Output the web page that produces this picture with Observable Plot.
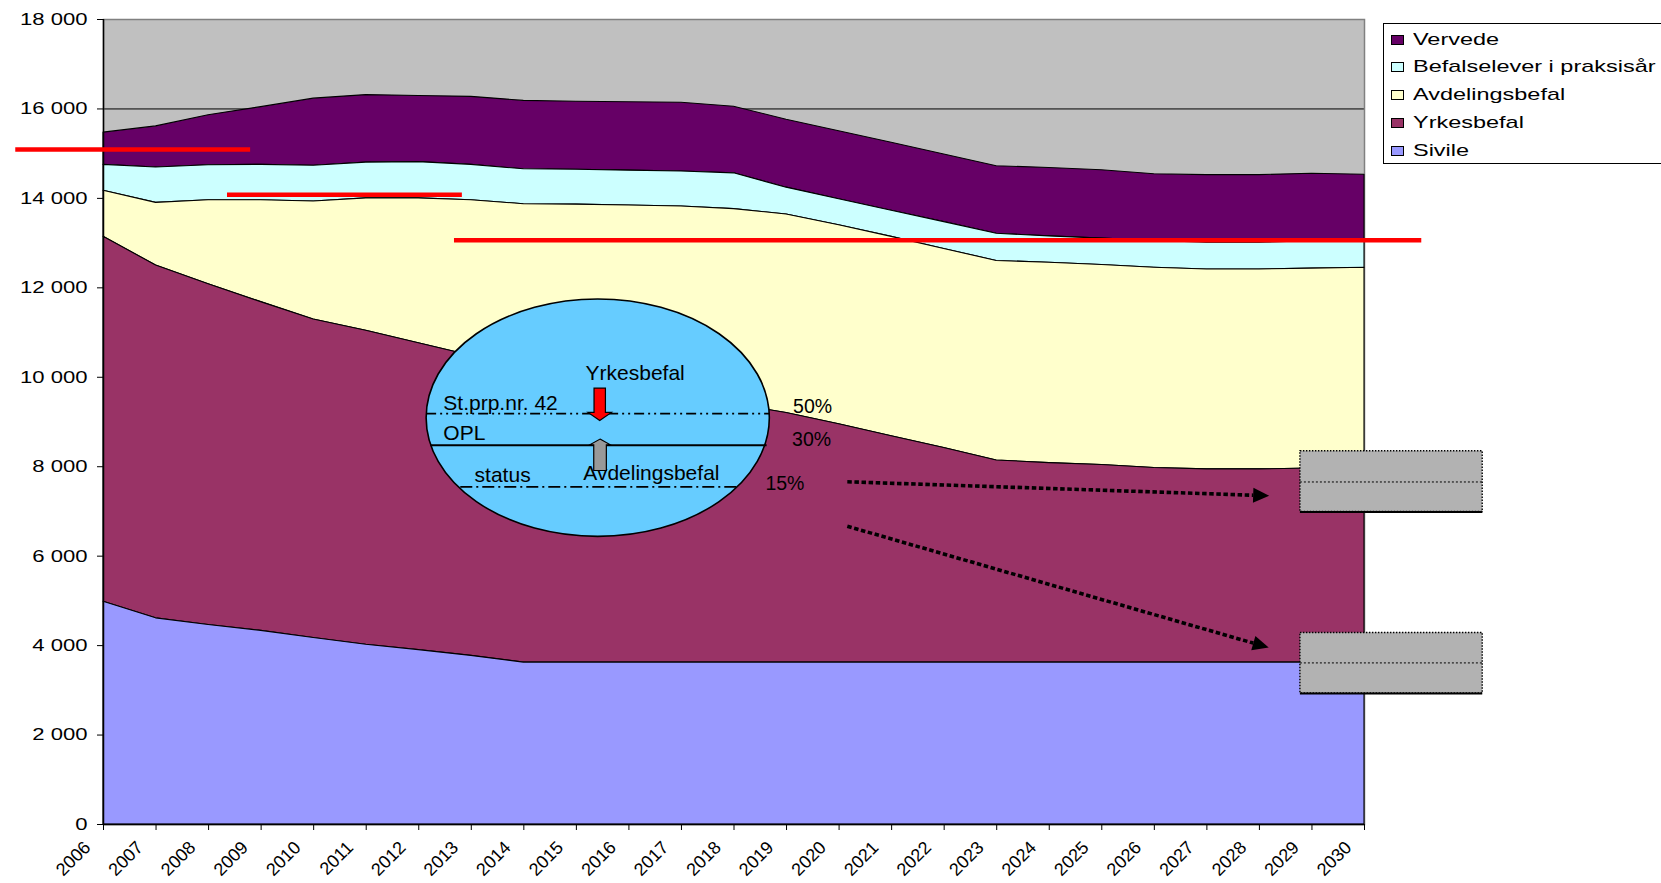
<!DOCTYPE html>
<html>
<head>
<meta charset="utf-8">
<script src="https://cdn.jsdelivr.net/npm/d3@7"></script>
<script src="https://cdn.jsdelivr.net/npm/@observablehq/plot@0.6"></script>
<style>
  html, body { margin: 0; padding: 0; background: #fff; overflow: hidden; }
  #chart { position: relative; width: 1661px; height: 883px; overflow: hidden; }
  #legend { position: absolute; left: 1383px; top: 23px; width: 300px; height: 139px;
    border: 1px solid #000; border-right: none; background: #fff;
    font-family: "Liberation Sans", Arial, sans-serif; font-size: 17px; color: #000; }
  .row { position: absolute; left: 0; height: 20px; display: flex; align-items: center; }
  .sw { width: 11px; height: 8px; border: 1px solid #000; margin-left: 7px; }
  .lab { margin-left: 9px; transform: scaleX(1.38); transform-origin: left center; white-space: nowrap; }
</style>
</head>
<body>
<div id="chart"></div>
<script>
// ---------------- data ----------------
const years = [2006, 2007, 2008, 2009, 2010, 2011, 2012, 2013, 2014, 2015, 2016, 2017, 2018,
               2019, 2020, 2021, 2022, 2023, 2024, 2025, 2026, 2027, 2028, 2029, 2030];
const sivile         = [4980, 4610, 4460, 4330, 4170, 4020, 3900, 3770, 3620, 3620, 3620, 3620, 3620,
                        3620, 3620, 3620, 3620, 3620, 3620, 3620, 3620, 3620, 3620, 3620, 3620];
const yrkesbefal     = [8160, 7890, 7620, 7350, 7120, 7020, 6860, 6710, 6600, 6380, 6180, 5980, 5780,
                        5580, 5330, 5060, 4800, 4520, 4460, 4420, 4350, 4320, 4320, 4340, 4360];
const avdelingsbefal = [1030, 1400, 1880, 2280, 2640, 2960, 3240, 3480, 3650, 3860, 4040, 4220, 4360,
                        4440, 4450, 4460, 4450, 4460, 4480, 4470, 4480, 4470, 4470, 4470, 4470];
const befalselever   = [580, 790, 780, 790, 800, 800, 810, 790, 780, 780, 780, 780, 800,
                        600, 580, 585, 600, 610, 590, 590, 600, 600, 600, 610, 620];
const vervede        = [720, 920, 1120, 1290, 1500, 1510, 1480, 1520, 1530, 1520, 1530, 1540, 1490,
                        1520, 1520, 1520, 1510, 1510, 1530, 1530, 1490, 1510, 1510, 1510, 1460];

const seriesNames  = ["Vervede", "Befalselever i praksisår", "Avdelingsbefal", "Yrkesbefal", "Sivile"];
const seriesColors = ["#660066", "#CCFFFF", "#FFFFCC", "#993366", "#9999FF"];
const stackOrder   = ["Sivile", "Yrkesbefal", "Avdelingsbefal", "Befalselever i praksisår", "Vervede"];
const yTicks = [0, 2000, 4000, 6000, 8000, 10000, 12000, 14000, 16000, 18000];

// red target lines (value, year span)
const targets = [
  {value: 15093, from: 2004.33, to: 2008.80},
  {value: 14084, from: 2008.36, to: 2012.83},
  {value: 13063, from: 2012.68, to: 2031.09}
];
// grey range boxes at the end (low / mid / high)
const ranges = [
  {lo: 6989, mid: 7659, hi: 8346},
  {lo: 2929, mid: 3613, hi: 4283}
];
const rangeYears = [2028.78, 2032.25];

// bubble annotation
const bubble = {year: 2015.416, value: 9085, halfYears: 3.266, halfValue: 2654};
const bubbleLines = [
  {value: 9188, from: 2012.15, to: 2018.68},   // St.prp.nr. 42
  {value: 8480, from: 2012.23, to: 2018.63},   // OPL
  {value: 7548, from: 2012.80, to: 2018.09}    // status
];
const bubbleLabels = [
  {label: "Yrkesbefal",     year: 2015.174, value: 9949},
  {label: "St.prp.nr. 42",  year: 2012.468, value: 9278},
  {label: "OPL",            year: 2012.468, value: 8607},
  {label: "status",         year: 2013.063, value: 7659},
  {label: "Avdelingsbefal", year: 2015.131, value: 7713}
];
const shareLabels = [
  {label: "50%", year: 2019.125, value: 9202},
  {label: "30%", year: 2019.106, value: 8464},
  {label: "15%", year: 2018.598, value: 7490}
];
const blockArrows = [
  {year: 2015.454, value: 9023, dir: "down", fill: "#FF0000"},
  {year: 2015.460, value: 8607, dir: "up",   fill: "#999999"}
];
const trendArrows = [
  {fromYear: 2020.166, fromValue: 7652, toYear: 2028.195, toValue: 7340},
  {fromYear: 2020.166, fromValue: 6658, toYear: 2028.186, toValue: 3946}
];

// ---------------- table ----------------
const seriesValues = {
  "Vervede": vervede, "Befalselever i praksisår": befalselever, "Avdelingsbefal": avdelingsbefal,
  "Yrkesbefal": yrkesbefal, "Sivile": sivile
};
const table = [];
for (const s of seriesNames) years.forEach((yr, i) => table.push({year: yr, series: s, value: seriesValues[s][i]}));

const fmt = d => d3.format(",")(d).replace(/,/g, " ");
const getScales = args => Array.from(args).find(a => a && typeof a.x === "function" && typeof a.y === "function");

function ellipseMark() {
  const s = getScales(arguments);
  const cx = s.x(bubble.year), cy = s.y(bubble.value);
  const rx = s.x(bubble.year + bubble.halfYears) - cx;
  const ry = cy - s.y(bubble.value + bubble.halfValue);
  const g = d3.create("svg:g");
  g.append("ellipse").attr("cx", cx).attr("cy", cy).attr("rx", rx).attr("ry", ry)
    .attr("fill", "#66CCFF").attr("stroke", "#000").attr("stroke-width", 1.6);
  return g.node();
}

function blockArrowMark() {
  const s = getScales(arguments);
  const g = d3.create("svg:g");
  for (const a of blockArrows) {
    const tx = s.x(a.year), ty = s.y(a.value);
    const shape = a.dir === "down"
      ? {body: 5.7, head: 11.7, headLen: 8, len: 32.4, sign: -1}
      : {body: 6.3, head: 10.3, headLen: 5.7, len: 31.4, sign: 1};
    const k = shape.sign;
    const pts = [[0, 0], [shape.head, k * shape.headLen], [shape.body, k * shape.headLen], [shape.body, k * shape.len],
                 [-shape.body, k * shape.len], [-shape.body, k * shape.headLen], [-shape.head, k * shape.headLen]];
    g.append("polygon").attr("points", pts.map(p => `${tx + p[0]},${ty + p[1]}`).join(" "))
      .attr("fill", a.fill).attr("stroke", "#000").attr("stroke-width", 1.2).attr("stroke-linejoin", "miter");
  }
  return g.node();
}

function trendArrowMark() {
  const s = getScales(arguments);
  const g = d3.create("svg:g");
  for (const a of trendArrows) {
    const x1 = s.x(a.fromYear), y1 = s.y(a.fromValue), x2 = s.x(a.toYear), y2 = s.y(a.toValue);
    const ang = Math.atan2(y2 - y1, x2 - x1);
    const hl = 16, hw = 7.5;
    const bx = x2 - hl * Math.cos(ang), by = y2 - hl * Math.sin(ang);
    g.append("line").attr("x1", x1).attr("y1", y1).attr("x2", bx).attr("y2", by)
      .attr("stroke", "#000").attr("stroke-width", 3.6).attr("stroke-dasharray", "4.5,2.6");
    const px = -Math.sin(ang) * hw, py = Math.cos(ang) * hw;
    g.append("polygon").attr("points", `${x2},${y2} ${bx + px},${by + py} ${bx - px},${by - py}`).attr("fill", "#000");
  }
  return g.node();
}

const svg = Plot.plot({
  width: 1661,
  height: 883,
  marginLeft: 103,
  marginRight: 297,
  marginTop: 19,
  marginBottom: 59,
  style: {fontFamily: "'Liberation Sans', Arial, sans-serif", fontSize: "16px", color: "#000", background: "#fff"},
  x: {type: "linear", domain: [years[0], years[years.length - 1]], label: null},
  y: {domain: [yTicks[0], yTicks[yTicks.length - 1]], label: null},
  color: {domain: seriesNames, range: seriesColors},
  marks: [
    Plot.frame({fill: "#C0C0C0", stroke: null}),
    Plot.gridY(yTicks.slice(0, -1), {stroke: "#000", strokeOpacity: 1, strokeWidth: 1}),
    Plot.frame({stroke: "#808080", strokeWidth: 1.5}),
    Plot.areaY(table, Plot.stackY({x: "year", y: "value", z: "series", fill: "series", order: stackOrder,
      stroke: "#000", strokeWidth: 1.1, strokeLinejoin: "round"})),
    Plot.ruleY([0], {stroke: "#000", strokeWidth: 1.5}),
    Plot.ruleX([years[0]], {stroke: "#000", strokeWidth: 1.5}),
    Plot.axisY({ticks: yTicks, tickFormat: fmt, tickSize: 6, tickPadding: 10, stroke: "#000", strokeOpacity: 1, fontSize: 17}),
    Plot.axisX({ticks: years, tickSize: 6, tickFormat: () => "", stroke: "#000", strokeOpacity: 1}),
    Plot.axisX({ticks: years, tickSize: 0, tickPadding: 0, tickFormat: d => String(d), tickRotate: -45,
      textAnchor: "end", lineAnchor: "middle", dx: -16, dy: 20, fontSize: 18}),
    Plot.ruleY(targets, {y: "value", x1: "from", x2: "to", stroke: "#FF0000", strokeWidth: 4.5}),
    ellipseMark,
    Plot.ruleY([bubbleLines[0]], {y: "value", x1: "from", x2: "to", stroke: "#000", strokeWidth: 1.8, strokeDasharray: "10,4,2,4,2,4"}),
    Plot.ruleY([bubbleLines[1]], {y: "value", x1: "from", x2: "to", stroke: "#000", strokeWidth: 1.8}),
    Plot.ruleY([bubbleLines[2]], {y: "value", x1: "from", x2: "to", stroke: "#000", strokeWidth: 1.8, strokeDasharray: "12,4,2,4"}),
    Plot.text(bubbleLabels, {x: "year", y: "value", text: "label", textAnchor: "start", lineAnchor: "bottom", fontSize: 21, fill: "#000"}),
    Plot.text(shareLabels, {x: "year", y: "value", text: "label", textAnchor: "start", lineAnchor: "bottom", fontSize: 19.5, fill: "#000"}),
    blockArrowMark,
    trendArrowMark,
    Plot.rect(ranges, {x1: () => rangeYears[0], x2: () => rangeYears[1], y1: "lo", y2: "hi",
      fill: "#B2B2B2", stroke: "#000", strokeWidth: 1.4, strokeDasharray: "1.5,1.5"}),
    Plot.ruleY(ranges, {y: "mid", x1: () => rangeYears[0], x2: () => rangeYears[1], stroke: "#000", strokeWidth: 1, strokeDasharray: "2,2"}),
    Plot.ruleY(ranges, {y: "lo", x1: () => rangeYears[0], x2: () => rangeYears[1], stroke: "#000", strokeWidth: 2})
  ]
});

// widen y tick labels like the original rendering
d3.select(svg).selectAll('[aria-label="y-axis tick label"] text')
  .attr("transform", function() { return (this.getAttribute("transform") || "") + " scale(1.3,1)"; });

const chart = document.getElementById("chart");
chart.appendChild(svg);

// legend (overlay, top right)
const legend = document.createElement("div");
legend.id = "legend";
const rowCenters = [15.5, 43.3, 71.1, 98.9, 126.7];
seriesNames.forEach((name, i) => {
  const row = document.createElement("div");
  row.className = "row";
  row.style.top = (rowCenters[i] - 10) + "px";
  const sw = document.createElement("div");
  sw.className = "sw";
  sw.style.background = seriesColors[i];
  const lab = document.createElement("span");
  lab.className = "lab";
  lab.textContent = name;
  row.appendChild(sw);
  row.appendChild(lab);
  legend.appendChild(row);
});
chart.appendChild(legend);
</script>
</body>
</html>
